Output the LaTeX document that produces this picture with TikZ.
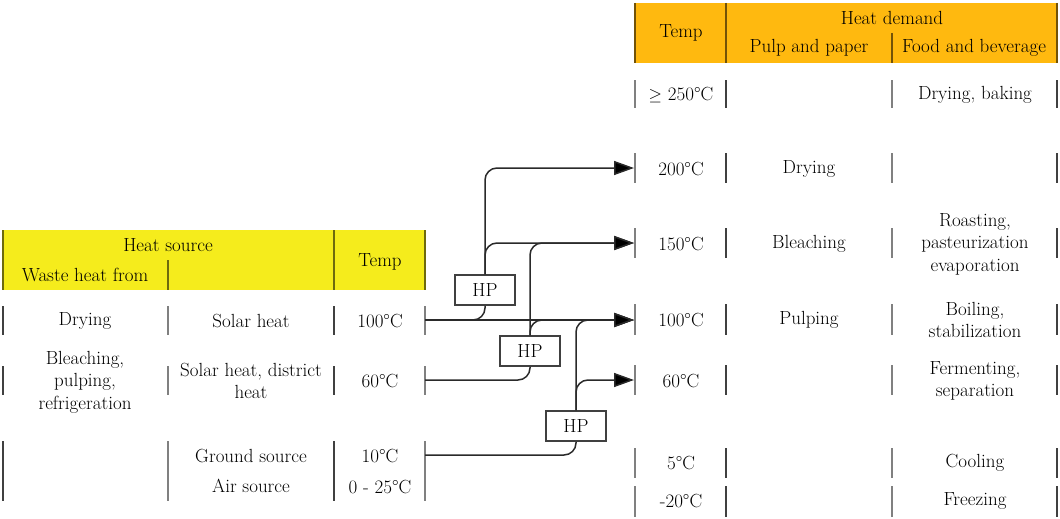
\documentclass[tikz,border=0pt]{standalone}
\usepackage{fontspec}
\usetikzlibrary{arrows.meta}
\definecolor{hyellow}{HTML}{F5EC1C}
\definecolor{horange}{HTML}{FFB90F}
\definecolor{linec}{HTML}{2A2A2A}
\tikzset{
  txt/.style={font=\fontsize{19}{22.5}\selectfont, align=center, inner sep=0pt, text=black, anchor=center},
  barA/.style={draw=black!75, line width=2pt},
  barB/.style={draw=black!50, line width=2pt},
  hdrline/.style={draw=black!55!hyellow, line width=2pt},
  hdrlineo/.style={draw=black!55!horange, line width=2pt},
  conn/.style={draw=linec, line width=1.5pt, rounded corners=12pt},
  arr/.style={conn, -{Triangle[length=20pt,width=14pt,fill=black]}},
  hpbox/.style={draw=black!75, line width=1.5pt, minimum width=60pt, minimum height=30pt, inner sep=0pt, fill=white, font=\fontsize{19}{22.5}\selectfont}
}
\begin{document}
\begin{tikzpicture}[x=1pt,y=-1pt]
\useasboundingbox (0,0) rectangle (1060,519);

% ---------- left table header ----------
\fill[hyellow] (3,230) rectangle (425,290);
\draw[hdrline] (3,230) -- (3,290);
\draw[hdrline] (334,230) -- (334,290);
\draw[hdrline] (425,230) -- (425,290);
\draw[hdrline] (168,260) -- (168,290);
\node[txt] (hsrc) at (168,245) {Heat source};
\node[txt] (whf) at (85,275) {Waste heat from};
\node[txt] (ltemp) at (380,262) {Temp};

% ---------- left table rows ----------
\foreach \ya/\yb in {306/335, 366/395, 441/501}{
  \draw[barA] (3,\ya) -- (3,\yb);
  \draw[barB] (168,\ya) -- (168,\yb);
  \draw[barA] (334,\ya) -- (334,\yb);
  \draw[barB] (425,\ya) -- (425,\yb);
}
\node[txt] (wdry) at (85,321) {Drying};
\node[txt] (sol) at (251,321) {Solar heat};
\node[txt] (s100) at (380,321) {100°C};
\node[txt] (wble) at (85,382) {Bleaching,\\pulping,\\refrigeration};
\node[txt] (sdh) at (251,381) {Solar heat, district\\heat};
\node[txt] (s60) at (380,381) {60°C};
\node[txt] (gs) at (251,456) {Ground source};
\node[txt] (as) at (251,486) {Air source};
\node[txt] (s10) at (380,456) {10°C};
\node[txt] (s025) at (380,487) {0 - 25°C};

% ---------- right table header ----------
\fill[horange] (635,3) rectangle (1057,63);
\draw[hdrlineo] (635,3) -- (635,63);
\draw[hdrlineo] (726,3) -- (726,63);
\draw[hdrlineo] (1057,3) -- (1057,63);
\draw[hdrlineo] (892,33) -- (892,63);
\node[txt] (rtemp) at (681,33) {Temp};
\node[txt] (hd) at (892,18) {Heat demand};
\node[txt] (pp) at (809,48) {Pulp and paper};
\node[txt] (fb) at (974,48) {Food and beverage};

% ---------- right table rows ----------
\foreach \ya/\yb in {80/108, 153/183, 228/258, 304/335, 365/395, 448/478, 486/517}{
  \draw[barB] (635,\ya) -- (635,\yb);
  \draw[barA] (726,\ya) -- (726,\yb);
  \draw[barB] (892,\ya) -- (892,\yb);
  \draw[barA] (1057,\ya) -- (1057,\yb);
}
\node[txt] (t250) at (681,95) {$\geq$ 250°C};
\node[txt] (f250) at (975,95) {Drying, baking};
\node[txt] (t200) at (681,169) {200°C};
\node[txt] (p200) at (809,169) {Drying};
\node[txt] (t150) at (681,244) {150°C};
\node[txt] (p150) at (809,244) {Bleaching};
\node[txt] (f150) at (975,244) {Roasting,\\pasteurization\\evaporation};
\node[txt] (t100) at (681,320) {100°C};
\node[txt] (p100) at (809,320) {Pulping};
\node[txt] (f100) at (975,320) {Boiling,\\stabilization};
\node[txt] (t60) at (681,381) {60°C};
\node[txt] (f60) at (975,381) {Fermenting,\\separation};
\node[txt] (t5) at (681,463) {5°C};
\node[txt] (f5) at (975,463) {Cooling};
\node[txt] (tm20) at (681,501) {-20°C};
\node[txt] (fm20) at (975,501) {Freezing};

% ---------- connector end points ----------
\coordinate (e100) at (425,320);
\coordinate (e60) at (425,380);
\coordinate (e10) at (425,455);
\coordinate (w200) at (634,168);
\coordinate (w150) at (634,243);
\coordinate (w100) at (634,320);
\coordinate (w60) at (634,380);

% ---------- heat pumps ----------
\node[hpbox] (hp1) at (485,290) {HP};
\node[hpbox] (hp2) at (530,351) {HP};
\node[hpbox] (hp3) at (576,426) {HP};

% ---------- connectors ----------
\draw[arr] (e100) -- (w100);
\draw[conn] (e100) -- (hp1.south |- e100) -- (hp1.south);
\draw[arr] (hp1.north) -- (hp1.north |- w200) -- (w200);
\draw[arr] (hp1.north) -- (hp1.north |- w150) -- (w150);

\draw[conn] (e60) -- (hp2.south |- e60) -- (hp2.south);
\draw[arr] (hp2.north) -- (hp2.north |- w150) -- (w150);
\draw[arr] (hp2.north) -- (hp2.north |- w100) -- (w100);

\draw[conn] (e10) -- (hp3.south |- e10) -- (hp3.south);
\draw[arr] (hp3.north) -- (hp3.north |- w100) -- (w100);
\draw[arr] (hp3.north) -- (hp3.north |- w60) -- (w60);
\end{tikzpicture}
\end{document}
